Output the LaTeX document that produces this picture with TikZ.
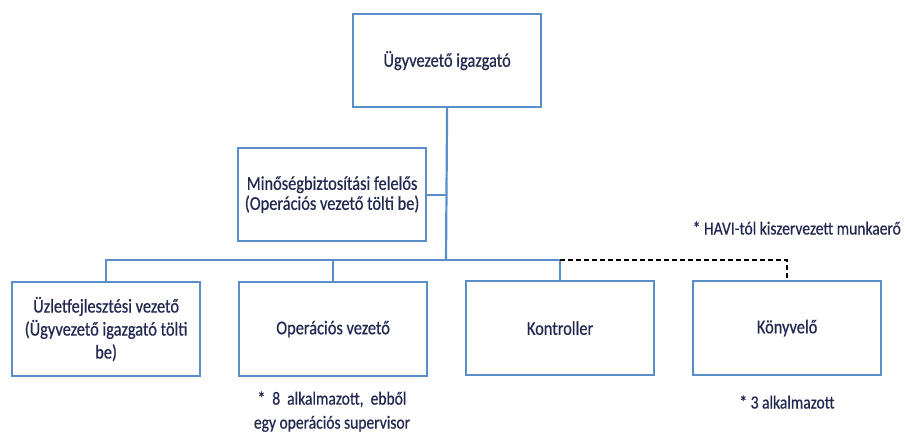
\documentclass[tikz,border=0pt]{standalone}
\usepackage{fontspec}
\setmainfont[FakeStretch=0.84,FakeBold=0.6]{Carlito}
\definecolor{boxblue}{HTML}{5B8DC8}
\definecolor{txt}{HTML}{232850}
\begin{document}
\begin{tikzpicture}[x=1pt,y=-1pt,
  box/.style={draw=boxblue,line width=2.2pt,fill=white,minimum width=188pt,minimum height=94pt,anchor=north west,inner sep=0pt,align=center,font=\fontsize{19.5}{23}\selectfont,text=txt},
  conn/.style={draw=boxblue,line width=2.2pt},
  dconn/.style={draw=black,line width=1.8pt,dash pattern=on 5pt off 3pt},
  note/.style={font=\fontsize{18.5}{24}\selectfont,text=txt,align=center,inner sep=0pt}]
\useasboundingbox (0,0) rectangle (905,436);
\node[box,minimum height=93pt] (ceo) at (352,13) {Ügyvezető igazgató};
\node[box,minimum height=93pt,font=\fontsize{19.5}{20}\selectfont] (qa) at (237,147) {Minőségbiztosítási felelős\\(Operációs vezető tölti be)};
\node[box] (uf) at (11,281) {Üzletfejlesztési vezető\\(Ügyvezető igazgató tölti\\be)};
\node[box] (op) at (238,281) {Operációs vezető};
\node[box] (ko) at (465,280) {Kontroller};
\node[box] (kv) at (692,280) {Könyvelő};
\coordinate (bus) at (446,260);
\draw[conn] (ceo.south) -- (bus);
\draw[conn] (qa.east) -- (qa.east -| bus);
\draw[conn] (uf.north) |- (bus);
\draw[conn] (op.north) -- (op.north |- bus);
\draw[conn] (bus) -| (ko.north);
\draw[dconn] (ko.north |- bus) -| (kv.north);
\node[note,anchor=east] (havi) at (901,228) {* HAVI-tól kiszervezett munkaerő};
\node[note] (n3) at (787,402) {* 3 alkalmazott};
\node[note,anchor=south] (n8) at (332,432) {*~~8~~alkalmazott,~~ebből\\egy operációs supervisor};
\end{tikzpicture}
\end{document}
